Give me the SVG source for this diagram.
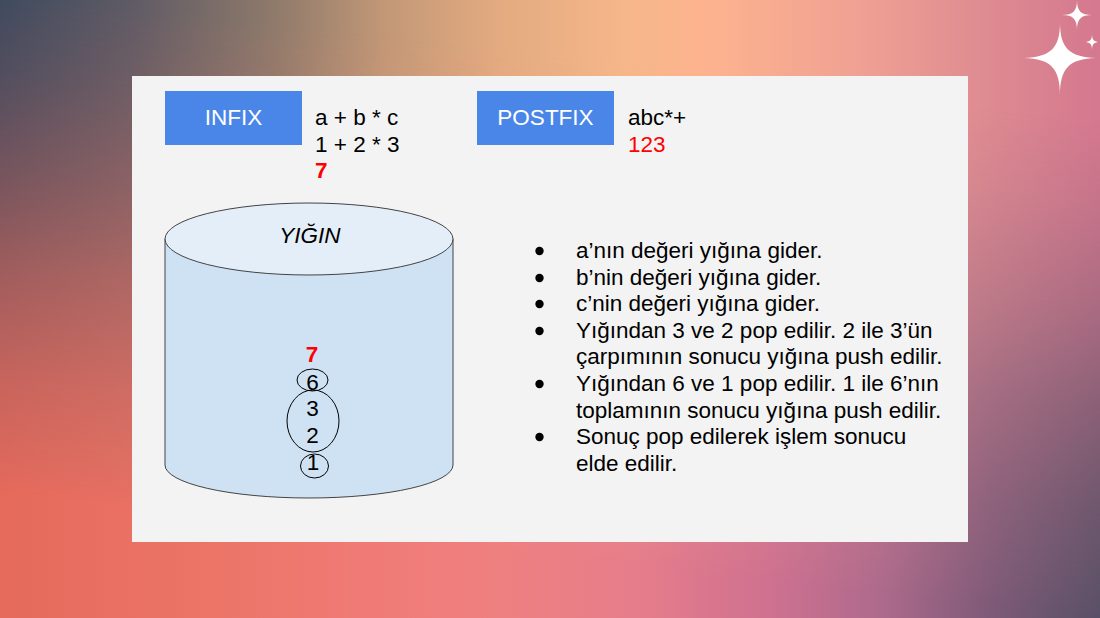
<svg xmlns="http://www.w3.org/2000/svg" width="1100" height="618" viewBox="0 0 1100 618">
  <defs>
    <style>
      .t { font-family: "Liberation Sans", Arial, sans-serif; font-size: 22.5px; fill: #000; }
      .red { fill: #ff0000; }
      .bold { font-weight: bold; }
      .btn { fill: #4a86e8; }
      .btnText { font-family: "Liberation Sans", Arial, sans-serif; font-size: 22.5px; fill: #ffffff; text-anchor: middle; }
      .ring { fill: none; stroke: #000; stroke-width: 1; }
      .dot { fill: #000; }
      .spark { fill: #ffffff; }
    </style>
    <!-- upper band of the backdrop -->
    <linearGradient id="bgTop" gradientUnits="userSpaceOnUse" x1="0" y1="0" x2="1100" y2="0">
      <stop offset="0" stop-color="#3d4a5f"/>
      <stop offset="0.12" stop-color="#5f5b65"/>
      <stop offset="0.25" stop-color="#8f7a6b"/>
      <stop offset="0.35" stop-color="#c29877"/>
      <stop offset="0.45" stop-color="#e2aa80"/>
      <stop offset="0.57" stop-color="#f6b78a"/>
      <stop offset="0.64" stop-color="#fdb38e"/>
      <stop offset="0.78" stop-color="#f0a193"/>
      <stop offset="0.9" stop-color="#de8a91"/>
      <stop offset="1" stop-color="#d4788f"/>
    </linearGradient>
    <!-- lower band of the backdrop -->
    <linearGradient id="bgBot" gradientUnits="userSpaceOnUse" x1="0" y1="0" x2="1100" y2="0">
      <stop offset="0" stop-color="#e56a5c"/>
      <stop offset="0.2" stop-color="#ec7568"/>
      <stop offset="0.32" stop-color="#f07a74"/>
      <stop offset="0.45" stop-color="#ef8080"/>
      <stop offset="0.58" stop-color="#e67d8b"/>
      <stop offset="0.7" stop-color="#cf7190"/>
      <stop offset="0.8" stop-color="#ae6a8c"/>
      <stop offset="0.9" stop-color="#7e5a78"/>
      <stop offset="1" stop-color="#575066"/>
    </linearGradient>
    <!-- blend between the two bands, slightly tilted -->
    <linearGradient id="fade" gradientUnits="userSpaceOnUse" x1="550" y1="0" x2="483" y2="550">
      <stop offset="0.1" stop-color="#fff" stop-opacity="1"/>
      <stop offset="0.25" stop-color="#fff" stop-opacity="0.88"/>
      <stop offset="0.42" stop-color="#fff" stop-opacity="0.68"/>
      <stop offset="0.5" stop-color="#fff" stop-opacity="0.57"/>
      <stop offset="0.6" stop-color="#fff" stop-opacity="0.42"/>
      <stop offset="0.7" stop-color="#fff" stop-opacity="0.3"/>
      <stop offset="0.8" stop-color="#fff" stop-opacity="0.18"/>
      <stop offset="0.95" stop-color="#fff" stop-opacity="0.05"/>
      <stop offset="1" stop-color="#fff" stop-opacity="0"/>
    </linearGradient>
    <mask id="topMask" maskUnits="userSpaceOnUse" x="0" y="0" width="1100" height="618">
      <rect x="0" y="0" width="1100" height="618" fill="url(#fade)"/>
    </mask>
  </defs>

  <!-- backdrop -->
  <g id="background">
    <rect x="0" y="0" width="1100" height="618" fill="url(#bgBot)"/>
    <rect x="0" y="0" width="1100" height="618" fill="url(#bgTop)" mask="url(#topMask)"/>
  </g>

  <!-- sparkles -->
  <g id="sparkles">
    <path class="spark" d="M1060,22 C1060,48 1069,57 1096,58 C1069,59 1060,68 1060,96 C1060,68 1051,59 1024,58 C1051,57 1060,48 1060,22Z"/>
    <path class="spark" d="M1077,0 C1077,11 1081,15 1092,15 C1081,15 1077,19 1077,30 C1077,19 1073,15 1062,15 C1073,15 1077,11 1077,0Z"/>
    <path class="spark" d="M1092,34 C1092,40 1094,42 1100,42 C1094,42 1092,44 1092,50 C1092,44 1090,42 1084,42 C1090,42 1092,40 1092,34Z"/>
  </g>

  <!-- slide panel -->
  <rect id="panel" x="132" y="76" width="836" height="466" fill="#f3f3f3"/>

  <g id="infix">
    <rect class="btn" x="165" y="91" width="137" height="54"/>
    <text class="btnText" x="233.5" y="125">INFIX</text>
  </g>
  <g id="infix-expr">
    <text class="t" x="315" y="125">a + b * c</text>
    <text class="t" x="315" y="152">1 + 2 * 3</text>
    <text class="t red bold" x="315" y="178">7</text>
  </g>

  <g id="postfix">
    <rect class="btn" x="477" y="91" width="137" height="54"/>
    <text class="btnText" x="545.5" y="125">POSTFIX</text>
  </g>
  <g id="postfix-expr">
    <text class="t" x="628" y="125">abc*+</text>
    <text class="t red" x="628" y="152">123</text>
  </g>

  <!-- stack drawn as a cylinder -->
  <g id="stack">
    <path d="M165,239 L165,465 A144,33 0 0 0 453,465 L453,239 Z" fill="#cfe2f3" stroke="#434343" stroke-width="1"/>
    <ellipse cx="309" cy="239" rx="144" ry="36" fill="#e4eef8" stroke="#434343" stroke-width="1"/>
    <text class="t" x="310" y="243" text-anchor="middle" font-style="italic">YIĞIN</text>
  </g>

  <g id="stack-items">
    <text class="t red bold" x="312" y="362" text-anchor="middle">7</text>
    <text class="t" x="312.5" y="390" text-anchor="middle">6</text>
    <text class="t" x="312.5" y="416" text-anchor="middle">3</text>
    <text class="t" x="312.5" y="443" text-anchor="middle">2</text>
    <text class="t" x="313" y="470" text-anchor="middle">1</text>
    <ellipse class="ring" cx="312.5" cy="380" rx="15.5" ry="11"/>
    <ellipse class="ring" cx="313" cy="421" rx="26" ry="31"/>
    <ellipse class="ring" cx="314.5" cy="466" rx="14" ry="12"/>
  </g>

  <!-- step list -->
  <g id="steps">
    <circle class="dot" cx="539.5" cy="251" r="4.2"/>
    <circle class="dot" cx="539.5" cy="278" r="4.2"/>
    <circle class="dot" cx="539.5" cy="304" r="4.2"/>
    <circle class="dot" cx="539.5" cy="331" r="4.2"/>
    <circle class="dot" cx="539.5" cy="384" r="4.2"/>
    <circle class="dot" cx="539.5" cy="437" r="4.2"/>
    <text class="t" x="576" y="258">a’nın değeri yığına gider.</text>
    <text class="t" x="576" y="285">b’nin değeri yığına gider.</text>
    <text class="t" x="576" y="311">c’nin değeri yığına gider.</text>
    <text class="t" x="576" y="338">Yığından 3 ve 2 pop edilir. 2 ile 3’ün</text>
    <text class="t" x="576" y="364">çarpımının sonucu yığına push edilir.</text>
    <text class="t" x="576" y="391">Yığından 6 ve 1 pop edilir. 1 ile 6’nın</text>
    <text class="t" x="576" y="418">toplamının sonucu yığına push edilir.</text>
    <text class="t" x="576" y="444">Sonuç pop edilerek işlem sonucu</text>
    <text class="t" x="576" y="471">elde edilir.</text>
  </g>
</svg>
